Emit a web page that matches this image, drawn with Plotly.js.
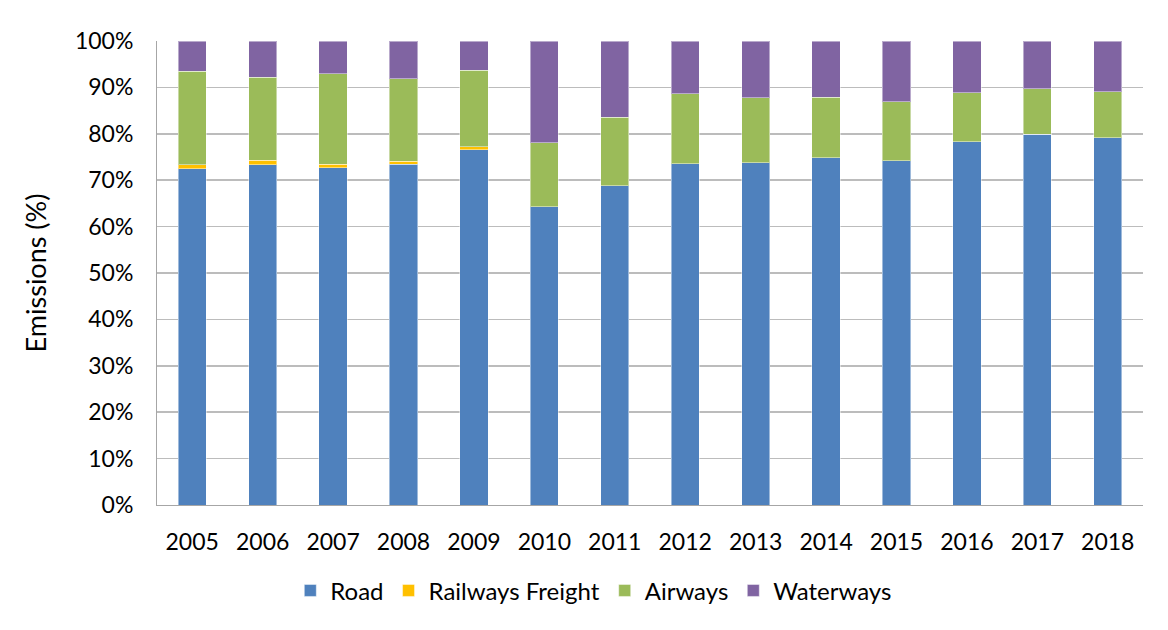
<!DOCTYPE html>
<html>
<head>
<meta charset="utf-8">
<script src="https://cdn.plot.ly/plotly-3.0.1.min.js"></script>
<style>
  html, body { margin: 0; padding: 0; background: #fff; }
  #chart { width: 1168px; height: 630px; outline: 1px solid #e3e3da; outline-offset: -1px; }
</style>
</head>
<body>
<div id="chart"></div>
<script>
const years = ['2005','2006','2007','2008','2009','2010','2011','2012','2013','2014','2015','2016','2017','2018'];
const road      = [72.5, 73.3, 72.7, 73.4, 76.6, 64.3, 68.8, 73.6, 73.8, 74.8, 74.2, 78.3, 79.9, 79.2];
const railways  = [0.8, 1.0, 0.7, 0.7, 0.6, 0, 0, 0, 0, 0, 0, 0, 0, 0];
const airways   = [20.2, 17.9, 19.5, 17.8, 16.5, 13.8, 14.8, 15.0, 14.0, 13.1, 12.7, 10.6, 9.8, 9.9];
const waterways = [6.5, 7.8, 7.1, 8.1, 6.3, 21.9, 16.4, 11.4, 12.2, 12.1, 13.1, 11.1, 10.3, 10.9];

const seriesNames = ['Road', 'Railways Freight', 'Airways', 'Waterways'];
const seriesData = [road, railways, airways, waterways];
const colors = ['#4F81BD', '#FFC000', '#9BBB59', '#8064A2'];

const traces = seriesData.map((vals, i) => ({
  type: 'bar',
  name: seriesNames[i],
  x: years,
  y: vals,
  marker: { color: colors[i], line: { color: 'rgba(255,255,255,0.45)', width: 1 } },
  hoverinfo: 'x+y+name'
}));

const font = 'Lato, "Open Sans", "DejaVu Sans", sans-serif';

const layout = {
  width: 1168,
  height: 630,
  barmode: 'stack',
  bargap: 0.6,
  paper_bgcolor: '#ffffff',
  plot_bgcolor: '#ffffff',
  margin: { l: 157, r: 25, t: 41, b: 125 },
  font: { family: font, size: 23, color: '#000000' },
  xaxis: {
    type: 'category',
    showline: true,
    linecolor: '#a6a6a6',
    linewidth: 1,
    ticks: '',
    ticklabelstandoff: 16,
    tickfont: { family: font, size: 23, color: '#000' },
    showgrid: false
  },
  yaxis: {
    range: [0, 100],
    dtick: 10,
    ticksuffix: '%',
    showline: true,
    linecolor: '#a6a6a6',
    linewidth: 1,
    gridcolor: '#bcbcbc',
    gridwidth: 1.5,
    ticks: '',
    ticklabelstandoff: 18,
    tickfont: { family: font, size: 23, color: '#000' },
    title: { text: 'Emissions (%)', font: { family: font, size: 27, color: '#000' }, standoff: 20 },
    zeroline: false
  },
  legend: {
    orientation: 'h',
    x: 0.443,
    xanchor: 'center',
    y: -0.185,
    yanchor: 'middle',
    font: { family: font, size: 24, color: '#000' },
    traceorder: 'normal',
    itemwidth: 30
  },
  showlegend: true
};

Plotly.newPlot('chart', traces, layout, { displayModeBar: false, staticPlot: true });
</script>
</body>
</html>
